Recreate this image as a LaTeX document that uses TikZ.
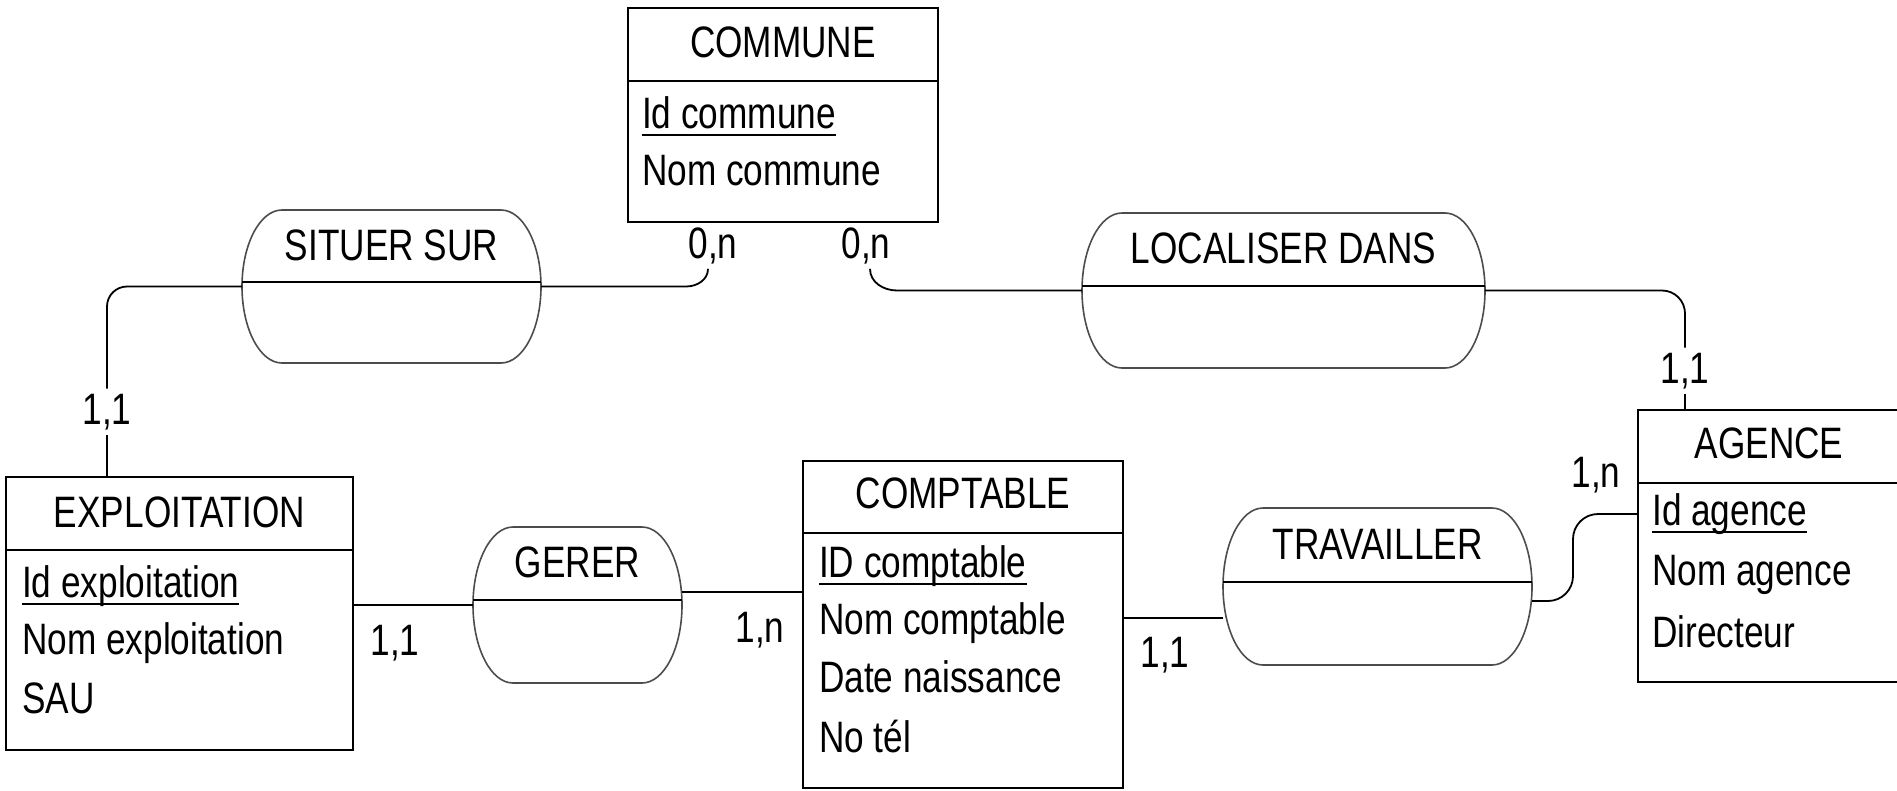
\documentclass[tikz,border=0pt]{standalone}
\usepackage{fontspec}
\setmainfont{Liberation Sans}[FakeStretch=0.80]
\usetikzlibrary{calc}

% underlined identifier
\newcommand{\idkey}[1]{\setbox0\hbox{#1}\rlap{\rule[-8pt]{\wd0}{2pt}}\box0}

\tikzset{
  entity/.style={draw, line width=2pt, anchor=north west, inner sep=0pt, outer sep=0pt},
  relnode/.style={inner sep=0pt, outer sep=0pt},
  relline/.style={line width=1.6pt, draw=black!70},
  sepline/.style={line width=2pt},
  link/.style={line width=1.8pt},
  txt/.style={inner sep=0pt, anchor=base, font=\fontsize{44pt}{52pt}\selectfont},
  attr/.style={txt, anchor=base west},
  card/.style={txt, inner sep=5pt},
}

% outline of a relation (flat top and bottom, elliptic ends)
\newcommand{\relframe}[1]{%
  \draw[relline] let \p1=(#1.north west), \p2=(#1.south east), \n1={(\y1-\y2)/2} in
    (\x1+40pt,\y1) -- (\x2-40pt,\y1)
    arc[start angle=90, end angle=-90, x radius=40pt, y radius=\n1]
    -- (\x1+40pt,\y2)
    arc[start angle=270, end angle=90, x radius=40pt, y radius=\n1] -- cycle;
  \draw[sepline] ([yshift=5pt]#1.west) -- ([yshift=5pt]#1.east); % separator
}

\begin{document}
\begin{tikzpicture}[x=1pt, y=1pt]
    \useasboundingbox (0,0) rectangle (1897,-790);
    \clip (0,0) rectangle (1897,-790);

    \begin{scope}[shift={(628,-8)}]
        \node[entity, minimum width=310pt, minimum height=214pt] (commune) at (0,0) {};
        \draw[sepline] ([yshift=-73pt]commune.north west) -- ([yshift=-73pt]commune.north east); % header
        \node[txt] (commune-t) at (155,-49) {COMMUNE};
        \node[attr] (commune-a1) at (14,-120) {\idkey{Id commune}};
        \node[attr] (commune-a2) at (14,-177) {Nom commune};
    \end{scope}

    \begin{scope}[shift={(6,-477)}]
        \node[entity, minimum width=347pt, minimum height=273pt] (exploitation) at (0,0) {};
        \draw[sepline] ([yshift=-73pt]exploitation.north west) -- ([yshift=-73pt]exploitation.north east); % header
        \node[txt] (exploitation-t) at (173.5,-50) {EXPLOITATION};
        \node[attr] (exploitation-a1) at (16,-120) {\idkey{Id exploitation}};
        \node[attr] (exploitation-a2) at (16,-177) {Nom exploitation};
        \node[attr] (exploitation-a3) at (16,-236) {SAU};
    \end{scope}

    \begin{scope}[shift={(803,-461)}]
        \node[entity, minimum width=320pt, minimum height=327pt] (comptable) at (0,0) {};
        \draw[sepline] ([yshift=-72pt]comptable.north west) -- ([yshift=-72pt]comptable.north east); % header
        \node[txt] (comptable-t) at (160,-47) {COMPTABLE};
        \node[attr] (comptable-a1) at (16,-116) {\idkey{ID comptable}};
        \node[attr] (comptable-a2) at (16,-173) {Nom comptable};
        \node[attr] (comptable-a3) at (16,-231) {Date naissance};
        \node[attr] (comptable-a4) at (16,-291) {No tél};
    \end{scope}

    \begin{scope}[shift={(1638,-410)}]
        \node[entity, minimum width=262pt, minimum height=272pt] (agence) at (0,0) {};
        \draw[sepline] ([yshift=-73pt]agence.north west) -- ([yshift=-73pt]agence.north east); % header
        \node[txt] (agence-t) at (131,-48) {AGENCE};
        \node[attr] (agence-a1) at (14,-115) {\idkey{Id agence}};
        \node[attr] (agence-a2) at (14,-175) {Nom agence};
        \node[attr] (agence-a3) at (14,-237) {Directeur};
    \end{scope}

    % Relations
    \node[relnode, minimum width=299pt, minimum height=153pt] (situer) at (391.5,-286.5) {};
    \relframe{situer}
    \node[txt] (situer-t) at ([yshift=-50pt]situer.north) {SITUER SUR};

    \node[relnode, minimum width=403pt, minimum height=155pt] (localiser) at (1283.5,-290.5) {};
    \relframe{localiser}
    \node[txt] (localiser-t) at ([yshift=-50pt]localiser.north) {LOCALISER DANS};

    \node[relnode, minimum width=209pt, minimum height=156pt] (gerer) at (577.5,-605) {};
    \relframe{gerer}
    \node[txt] (gerer-t) at ([yshift=-50pt]gerer.north) {GERER};

    \node[relnode, minimum width=309pt, minimum height=157pt] (travailler) at (1377.5,-586.5) {};
    \relframe{travailler}
    \node[txt] (travailler-t) at ([yshift=-51pt]travailler.north) {TRAVAILLER};

    % Cardinalities
    \node[card] (situer-c1) at (107,-424) {1,1};
    \node[card] (situer-c2) at (713,-258) {0,n};
    \node[card] (localiser-c1) at (866,-258) {0,n};
    \node[card] (localiser-c2) at (1685,-383) {1,1};
    \node[card] (gerer-c1) at (395,-655) {1,1};
    \node[card] (gerer-c2) at (760,-642) {1,n};
    \node[card] (travailler-c1) at (1165,-667) {1,1};
    \node[card] (travailler-c2) at (1596,-487) {1,n};

    % Links
    \draw[link, rounded corners=20pt] (situer.west) -| (situer-c1.north);
    \draw[link] (situer-c1.south) -- (situer-c1.south |- exploitation.north);
    \draw[link] (situer.east) -- ([xshift=-27pt]situer-c2.south |- situer.east)
        to[out=0, in=-90] ([xshift=-5pt]situer-c2.south);

    \draw[link] ([xshift=4pt]localiser-c1.south) to[out=-90, in=180]
        ([xshift=31pt]localiser-c1.south |- localiser.west) -- (localiser.west);
    \draw[link, rounded corners=23pt] (localiser.east) -| (localiser-c2.north);
    \draw[link] (localiser-c2.south) -- (localiser-c2.south |- agence.north);

    \draw[link] (gerer.west) -- (gerer.west -| exploitation.east);
    \draw[link] ([yshift=13pt]gerer.east) -- ([yshift=13pt]gerer.east -| comptable.west);

    \draw[link] ([yshift=-31.5pt]travailler.west) -- ([yshift=-31.5pt]travailler.west -| comptable.east);
    \draw[link, rounded corners=25pt] ([yshift=-14.5pt]travailler.east)
        -| ([xshift=-65pt, yshift=32pt]agence.west) -- ([yshift=32pt]agence.west);

\end{tikzpicture}
\end{document}
